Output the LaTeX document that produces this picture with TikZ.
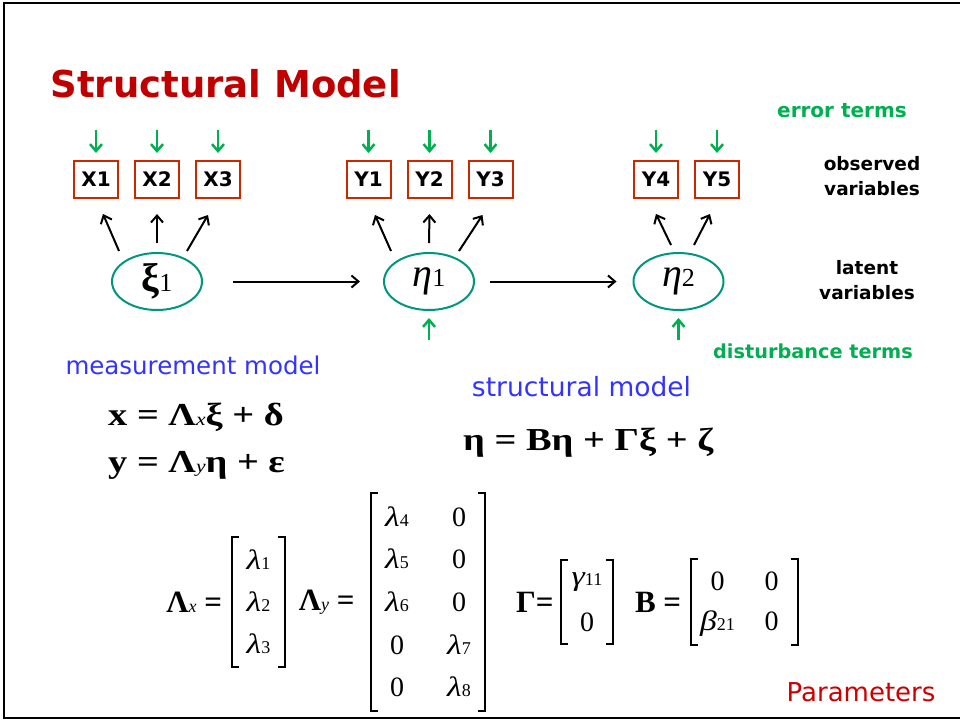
\documentclass[tikz,border=0pt]{standalone}
\usepackage{fontspec}
\setmainfont{Liberation Serif}
\newfontfamily\eqfont[FakeStretch=1.2]{Liberation Serif}
\newfontfamily\comicfont{DejaVu Sans}
\usetikzlibrary{arrows.meta,positioning,matrix,calc,shapes.geometric}

\definecolor{titlered}{RGB}{192,0,0}
\definecolor{boxred}{RGB}{204,40,0}
\definecolor{errgreen}{RGB}{0,176,80}
\definecolor{latteal}{RGB}{0,150,125}
\definecolor{modelblue}{RGB}{51,51,255}
\definecolor{parred}{RGB}{204,0,0}

\newcommand{\sub}[1]{{\mdseries\itshape\fontsize{18}{18}\selectfont #1}}
\newcommand{\lam}[1]{{\eqfont\itshape λ}{\fontsize{18}{18}\selectfont #1}}

\begin{document}
\begin{tikzpicture}[
    x=1pt, y=-1pt,
    obs/.style={draw=boxred, line width=2pt, minimum width=44pt, minimum height=37pt, inner sep=0pt, font=\comicfont\bfseries\fontsize{20}{20}\selectfont},
    lat/.style={ellipse, draw=latteal, line width=2pt, minimum width=90pt, minimum height=57pt, inner sep=0pt, font=\fontsize{40}{40}\selectfont},
    line/.style={-{Straight Barb[length=7pt,width=12pt]}, line width=2pt},
    err/.style={-{Straight Barb[length=7pt,width=12pt]}, line width=2.5pt, draw=errgreen},
    note/.style={font=\comicfont\bfseries\fontsize{18.5}{25}\selectfont, align=center},
    model/.style={font=\comicfont\fontsize{24.5}{24.5}\selectfont, text=modelblue},
    eqn/.style={font=\eqfont\bfseries\fontsize{32}{32}\selectfont, inner sep=0pt},
    lbl/.style={font=\bfseries\fontsize{31}{31}\selectfont, inner sep=0pt},
    mat/.style={matrix of nodes, inner xsep=4pt, inner ysep=2pt, column sep=18pt,
        nodes={minimum width=44pt, minimum height=42pt, inner sep=0pt, font=\fontsize{28}{28}\selectfont}},
    brk/.style={line width=2pt}
]
    \useasboundingbox (0,0) rectangle (960,723);
    \draw[line width=2.5pt] (960,3) -- (4,3) -- (4,718) -- (960,718);

    \node[anchor=base west, text=titlered, font=\comicfont\bfseries\fontsize{37}{37}\selectfont] (title) at (47,97) {Structural Model};

    % observed variables
    \node[obs] (X1) at (96,179.5) {X1};
    \node[obs, right=15pt of X1] (X2) {X2};
    \node[obs, right=15pt of X2] (X3) {X3};
    \node[obs] (Y1) at (368.5,179.5) {Y1};
    \node[obs, right=15pt of Y1] (Y2) {Y2};
    \node[obs, right=15pt of Y2] (Y3) {Y3};
    \node[obs] (Y4) at (656,179.5) {Y4};
    \node[obs, right=15pt of Y4] (Y5) {Y5};

    % latent variables
    \node[lat] (xi1) at (157,281.5) {\textbf{ξ}{\fontsize{26}{26}\selectfont 1}};
    \node[lat] (eta1) at (429,281.5) {\textit{η}{\fontsize{26}{26}\selectfont 1}};
    \node[lat] (eta2) at (678.5,281.5) {\textit{η}{\fontsize{26}{26}\selectfont 2}};

    \foreach \b in {X1,X2,X3,Y1,Y2,Y3,Y4,Y5}
        \draw[err] ([yshift=30pt]\b.north) -- ([yshift=7pt]\b.north);
    \foreach \e in {eta1,eta2}
        \draw[err] ([yshift=-29pt]\e.south) -- ([yshift=-7pt]\e.south);

    \draw[line] ($(xi1.north)+(-38,-1)$) -- ($(X1.south)+(7,15)$);
    \draw[line] ($(xi1.north)+(0,-9)$) -- ($(X2.south)+(0,15)$);
    \draw[line] ($(xi1.north)+(30,-1)$) -- ($(X3.south)+(-10,16)$);
    \draw[line] ($(eta1.north)+(-38,-1)$) -- ($(Y1.south)+(6.5,16)$);
    \draw[line] ($(eta1.north)+(0,-9)$) -- ($(Y2.south)+(0,15)$);
    \draw[line] ($(eta1.north)+(30,-1)$) -- ($(Y3.south)+(-8,16)$);
    \draw[line] ($(eta2.north)+(-7.5,-7)$) -- ($(Y4.south)+(0,15)$);
    \draw[line] ($(eta2.north)+(15.5,-7)$) -- ($(Y5.south)+(-7,15)$);
    \draw[line, shorten <=30pt, shorten >=23pt] (xi1.east) -- (eta1.west);
    \draw[line, shorten <=15pt, shorten >=16pt] (eta1.east) -- (eta2.west);

    % side notes
    \node[note, text=errgreen, font=\comicfont\bfseries\fontsize{20}{20}\selectfont] (errlbl) at (842,111) {error terms};
    \node[note] (obslbl) at (872,176) {observed\\variables};
    \node[note] (latlbl) at (867,280) {latent\\variables};
    \node[note, text=errgreen, font=\comicfont\bfseries\fontsize{19.3}{20}\selectfont] (distlbl) at (813,351) {disturbance terms};

    % equations
    \node[model] (measlbl) at (193,365) {measurement model};
    \node[model, font=\comicfont\fontsize{26.5}{26.5}\selectfont] (strlbl) at (581.5,387) {structural model};
    \node[eqn, anchor=base west] (eqx) at (108,425) {x = Λ\sub{x}ξ + δ};
    \node[eqn, anchor=base west] (eqy) at (108,472) {y = Λ\sub{y}η + ε};
    \node[eqn, anchor=base west] (eqeta) at (463,450) {η = Bη + Γξ + ζ};

    % parameter matrices
    \matrix (lamx) [mat] at (258.5,602) {
        \lam1 \\ \lam2 \\ \lam3 \\
    };
    \matrix (lamy) [mat] at (428,602) {
        \lam4 & 0 \\ \lam5 & 0 \\ \lam6 & 0 \\ 0 & \lam7 \\ 0 & \lam8 \\
    };
    \matrix (gam) [mat, nodes={minimum height=40pt}] at (587,602) {
        {\eqfont\itshape γ}{\fontsize{18}{18}\selectfont 11} \\ 0 \\
    };
    \matrix (bmat) [mat, column sep=10pt, nodes={minimum height=40pt}] at (744.5,602) {
        0 & 0 \\ {\eqfont\itshape β}{\fontsize{18}{18}\selectfont 21} & 0 \\
    };
    \foreach \m in {lamx,lamy,gam,bmat} {
        \draw[brk] ([xshift=7pt]\m.north west) -| (\m.south west) -- ++(7,0);
        \draw[brk] ([xshift=-7pt]\m.north east) -| (\m.south east) -- ++(-7,0);
    }
    \node[lbl, left=10pt of lamx] (lamxlbl) {Λ\sub{x} =};
    \node[lbl, left=16pt of lamy] (lamylbl) {Λ\sub{y} =};
    \node[lbl, left=7pt of gam] (gamlbl) {Γ=};
    \node[lbl, left=10pt of bmat] (bmatlbl) {B =};

    \node[font=\comicfont\fontsize{26}{26}\selectfont, text=parred] (parlbl) at (861,692) {Parameters};
\end{tikzpicture}
\end{document}
